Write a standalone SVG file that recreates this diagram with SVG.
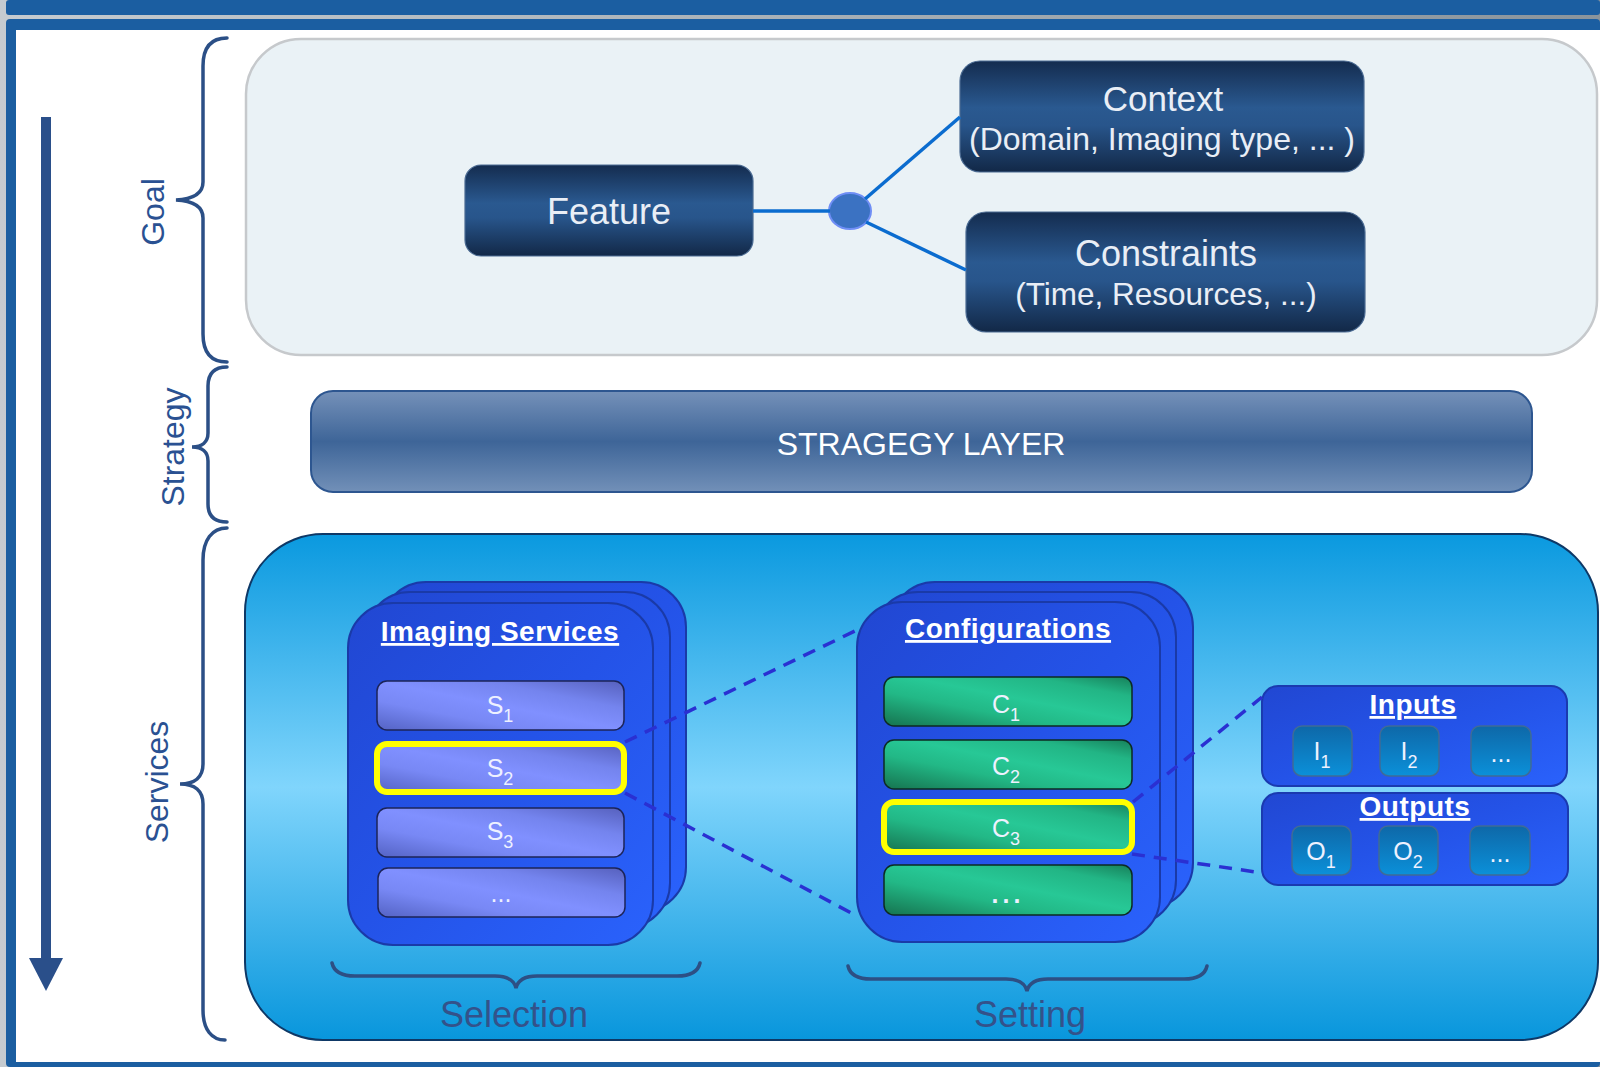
<svg xmlns="http://www.w3.org/2000/svg" width="1600" height="1067" viewBox="0 0 1600 1067">
<defs>
  <linearGradient id="gNavy" x1="0" y1="0" x2="0" y2="1">
    <stop offset="0" stop-color="#142c4f"/>
    <stop offset="0.42" stop-color="#2a5990"/>
    <stop offset="0.58" stop-color="#28558b"/>
    <stop offset="1" stop-color="#122847"/>
  </linearGradient>
  <linearGradient id="gStrat" x1="0" y1="0" x2="0" y2="1">
    <stop offset="0" stop-color="#7591b9"/>
    <stop offset="0.5" stop-color="#3e6598"/>
    <stop offset="1" stop-color="#7290b8"/>
  </linearGradient>
  <linearGradient id="gServ" x1="0" y1="0" x2="0" y2="1">
    <stop offset="0" stop-color="#0a99df"/>
    <stop offset="0.5" stop-color="#80d5fc"/>
    <stop offset="1" stop-color="#0896dc"/>
  </linearGradient>
  <linearGradient id="gCard" x1="0" y1="0" x2="1" y2="1">
    <stop offset="0" stop-color="#2147d2"/>
    <stop offset="0.5" stop-color="#2453e8"/>
    <stop offset="1" stop-color="#2a62fc"/>
  </linearGradient>
  <linearGradient id="gRowS" x1="0" y1="1" x2="1" y2="0">
    <stop offset="0" stop-color="#5463c4"/>
    <stop offset="0.3" stop-color="#7888f5"/>
    <stop offset="0.5" stop-color="#8090ff"/>
    <stop offset="0.72" stop-color="#7484ee"/>
    <stop offset="1" stop-color="#5660bd"/>
  </linearGradient>
  <linearGradient id="gRowC" x1="0" y1="1" x2="1" y2="0">
    <stop offset="0" stop-color="#16734f"/>
    <stop offset="0.35" stop-color="#22b886"/>
    <stop offset="0.55" stop-color="#27c896"/>
    <stop offset="0.8" stop-color="#22b585"/>
    <stop offset="1" stop-color="#17805a"/>
  </linearGradient>
  <linearGradient id="gSmall" x1="0" y1="0" x2="0" y2="1">
    <stop offset="0" stop-color="#0e68a8"/>
    <stop offset="1" stop-color="#0b90d9"/>
  </linearGradient>
  <linearGradient id="gSide" x1="0" y1="0" x2="1" y2="0">
    <stop offset="0" stop-color="#c5cbd0"/>
    <stop offset="1" stop-color="#8a949c"/>
  </linearGradient>
</defs>
<style>
  text { font-family: "Liberation Sans", Arial, sans-serif; }
  .side { fill: #2a5192; font-size: 32px; }
  .brace { fill: none; stroke: #2b4f86; stroke-width: 3.5; stroke-linecap: round; }
  .hbrace { fill: none; stroke: #2d4f84; stroke-width: 3.5; stroke-linecap: round; }
  .bottomlbl { fill: #34528a; font-size: 36px; text-anchor: middle; }
  .navy { fill: url(#gNavy); stroke: #4a6a92; stroke-width: 1.2; }
  .navytxt { fill: #e9eef6; text-anchor: middle; }
  .card { fill: url(#gCard); stroke: #1a3aa8; stroke-width: 2; }
  .title { fill: #ffffff; font-weight: bold; font-size: 28px; letter-spacing: 0.5px; text-anchor: middle; text-decoration: underline; }
  .rowS { fill: url(#gRowS); stroke: #1c2458; stroke-width: 1.5; }
  .rowC { fill: url(#gRowC); stroke: #0d2b22; stroke-width: 1.5; }
  .sel { stroke: #ffff00; stroke-width: 6; }
  .rowtxt { fill: #eef1ff; font-size: 25px; text-anchor: middle; }
  .sub { font-size: 18px; }
  .io { fill: url(#gCard); stroke: #1a3ab0; stroke-width: 2; }
  .small { fill: url(#gSmall); stroke: #3f6b97; stroke-width: 1.5; }
  .solid { stroke: #0b6ccf; stroke-width: 3.5; fill: none; }
  .dash { stroke: #2a30d2; stroke-width: 3.5; stroke-dasharray: 13 9; fill: none; }
</style>

<!-- frame -->
<g id="frame">
  <rect x="0" y="0" width="1600" height="1067" fill="url(#gSide)"/>
  <rect x="6" y="0" width="1594" height="15" rx="3" fill="#1b5ea1"/>
  <rect x="6" y="19" width="1594" height="1048" rx="4" fill="#1b5ea1"/>
  <rect x="16" y="30" width="1584" height="1032" fill="#ffffff"/>
</g>

<!-- left arrow -->
<g id="flow-arrow">
  <line x1="46" y1="117" x2="46" y2="962" stroke="#2a4f8a" stroke-width="10"/>
  <polygon points="29,958 63,958 46,991" fill="#2a4f8a"/>
</g>

<!-- side braces and labels -->
<g id="goal-label">
  <path class="brace" d="M227,38 C210,38 203,48 203,66 L203,182 C203,193 195,199 176,200 C195,201 203,207 203,218 L203,334 C203,352 210,362 227,362"/>
  <text class="side" transform="translate(164,212) rotate(-90)" text-anchor="middle">Goal</text>
</g>
<g id="strategy-label">
  <path class="brace" d="M227,367 C214,367 208,374 208,386 L208,433 C208,442 202,447 192,447 C202,447 208,452 208,461 L208,504 C208,516 214,522 227,522"/>
  <text class="side" transform="translate(184,447) rotate(-90)" text-anchor="middle">Strategy</text>
</g>
<g id="services-label">
  <path class="brace" d="M227,528 C212,528 203,540 203,560 L203,764 C203,777 195,784 180,784 C195,784 203,791 203,804 L203,1010 C203,1030 212,1040 225,1040"/>
  <text class="side" transform="translate(168,782) rotate(-90)" text-anchor="middle">Services</text>
</g>

<!-- goal panel -->
<g id="goal-panel">
  <rect x="246" y="39" width="1351" height="316" rx="55" fill="#eaf2f6" stroke="#c6c9cc" stroke-width="2.5"/>
</g>

<g id="feature">
  <rect class="navy" x="465" y="165" width="288" height="91" rx="16"/>
  <text class="navytxt" x="609" y="224" font-size="36">Feature</text>
</g>

<g id="junction">
  <ellipse cx="850" cy="211" rx="21" ry="18" fill="#3b72c2" stroke="#6f8ef5" stroke-width="2"/>
</g>

<g id="context">
  <rect class="navy" x="960" y="61" width="404" height="111" rx="20"/>
  <text class="navytxt" x="1163" y="111" font-size="35">Context</text>
  <text class="navytxt" x="1162" y="150" font-size="32">(Domain, Imaging type, ... )</text>
</g>

<g id="constraints">
  <rect class="navy" x="966" y="212" width="399" height="120" rx="20"/>
  <text class="navytxt" x="1166" y="266" font-size="36">Constraints</text>
  <text class="navytxt" x="1166" y="305" font-size="31.5">(Time, Resources, ...)</text>
</g>

<!-- strategy -->
<g id="strategy-layer">
  <rect x="311" y="391" width="1221" height="101" rx="22" fill="url(#gStrat)" stroke="#2d5690" stroke-width="2"/>
  <text x="921" y="455" font-size="32" fill="#ffffff" text-anchor="middle">STRAGEGY LAYER</text>
</g>

<!-- services panel -->
<g id="services-panel">
  <rect x="245" y="534" width="1353" height="506" rx="78" fill="url(#gServ)" stroke="#0e3866" stroke-width="2"/>
</g>

<g id="imaging-services">
  <rect class="card" x="381" y="582" width="305" height="330" rx="45"/>
  <rect class="card" x="365" y="592" width="305" height="336" rx="45"/>
  <rect class="card" x="348" y="603" width="305" height="342" rx="45"/>
  <text class="title" x="500" y="641">Imaging Services</text>
</g>
<g id="s1">
  <rect class="rowS" x="377" y="681" width="247" height="49" rx="10"/>
  <text class="rowtxt" x="500" y="714">S<tspan class="sub" dy="8">1</tspan></text>
</g>
<g id="s2">
  <rect class="rowS sel" x="377" y="744" width="247" height="48" rx="10"/>
  <text class="rowtxt" x="500" y="777">S<tspan class="sub" dy="8">2</tspan></text>
</g>
<g id="s3">
  <rect class="rowS" x="377" y="808" width="247" height="49" rx="10"/>
  <text class="rowtxt" x="500" y="840">S<tspan class="sub" dy="8">3</tspan></text>
</g>
<g id="s-more">
  <rect class="rowS" x="378" y="868" width="247" height="49" rx="10"/>
  <text class="rowtxt" x="501" y="902" font-size="17">...</text>
</g>

<g id="configurations">
  <rect class="card" x="890" y="582" width="303" height="326" rx="45"/>
  <rect class="card" x="873" y="592" width="303" height="333" rx="45"/>
  <rect class="card" x="857" y="602" width="303" height="340" rx="45"/>
  <text class="title" x="1008" y="638" font-size="29">Configurations</text>
</g>
<g id="c1">
  <rect class="rowC" x="884" y="677" width="248" height="49" rx="10"/>
  <text class="rowtxt" x="1006" y="713">C<tspan class="sub" dy="8">1</tspan></text>
</g>
<g id="c2">
  <rect class="rowC" x="884" y="740" width="248" height="49" rx="10"/>
  <text class="rowtxt" x="1006" y="775">C<tspan class="sub" dy="8">2</tspan></text>
</g>
<g id="c3">
  <rect class="rowC sel" x="884" y="802" width="248" height="50" rx="10"/>
  <text class="rowtxt" x="1006" y="837">C<tspan class="sub" dy="8">3</tspan></text>
</g>
<g id="c-more">
  <rect class="rowC" x="884" y="865" width="248" height="50" rx="10"/>
  <text class="rowtxt" x="1008" y="903" font-weight="bold" letter-spacing="4">...</text>
</g>

<g id="inputs">
  <rect class="io" x="1262" y="686" width="305" height="100" rx="16"/>
  <text class="title" x="1413" y="714">Inputs</text>
  <rect class="small" x="1293" y="726" width="59" height="50" rx="9"/>
  <text class="rowtxt" x="1322" y="760">I<tspan class="sub" dy="8">1</tspan></text>
  <rect class="small" x="1380" y="726" width="59" height="50" rx="9"/>
  <text class="rowtxt" x="1409" y="760">I<tspan class="sub" dy="8">2</tspan></text>
  <rect class="small" x="1471" y="726" width="60" height="50" rx="9"/>
  <text class="rowtxt" x="1501" y="762" font-size="22">...</text>
</g>

<g id="outputs">
  <rect class="io" x="1262" y="793" width="306" height="92" rx="16"/>
  <text class="title" x="1415" y="816">Outputs</text>
  <rect class="small" x="1292" y="826" width="59" height="49" rx="9"/>
  <text class="rowtxt" x="1321" y="860">O<tspan class="sub" dy="8">1</tspan></text>
  <rect class="small" x="1379" y="826" width="59" height="49" rx="9"/>
  <text class="rowtxt" x="1408" y="860">O<tspan class="sub" dy="8">2</tspan></text>
  <rect class="small" x="1470" y="826" width="60" height="49" rx="9"/>
  <text class="rowtxt" x="1500" y="862" font-size="22">...</text>
</g>

<!-- bottom braces -->
<g id="selection-label">
  <path class="hbrace" d="M332,963 C334,972 342,976 355,976 L495,976 C508,976 514,980 516,988 C518,980 524,976 537,976 L677,976 C690,976 698,972 700,963"/>
  <text class="bottomlbl" x="514" y="1027" font-size="37">Selection</text>
</g>
<g id="setting-label">
  <path class="hbrace" d="M848,966 C850,975 858,979 871,979 L1006,979 C1019,979 1025,983 1027,991 C1029,983 1035,979 1048,979 L1184,979 C1197,979 1205,975 1207,966"/>
  <text class="bottomlbl" x="1030" y="1027">Setting</text>
</g>

<!-- connectors -->
<g id="connectors">
  <line class="solid" x1="753" y1="211" x2="830" y2="211"/>
  <line class="solid" x1="865" y1="199" x2="960" y2="117"/>
  <line class="solid" x1="866" y1="222" x2="966" y2="270"/>
  <line class="dash" x1="625" y1="742" x2="857" y2="630"/>
  <line class="dash" x1="625" y1="793" x2="857" y2="916"/>
  <line class="dash" x1="1133" y1="802" x2="1262" y2="697"/>
  <line class="dash" x1="1132" y1="854" x2="1263" y2="873"/>
</g>
</svg>
